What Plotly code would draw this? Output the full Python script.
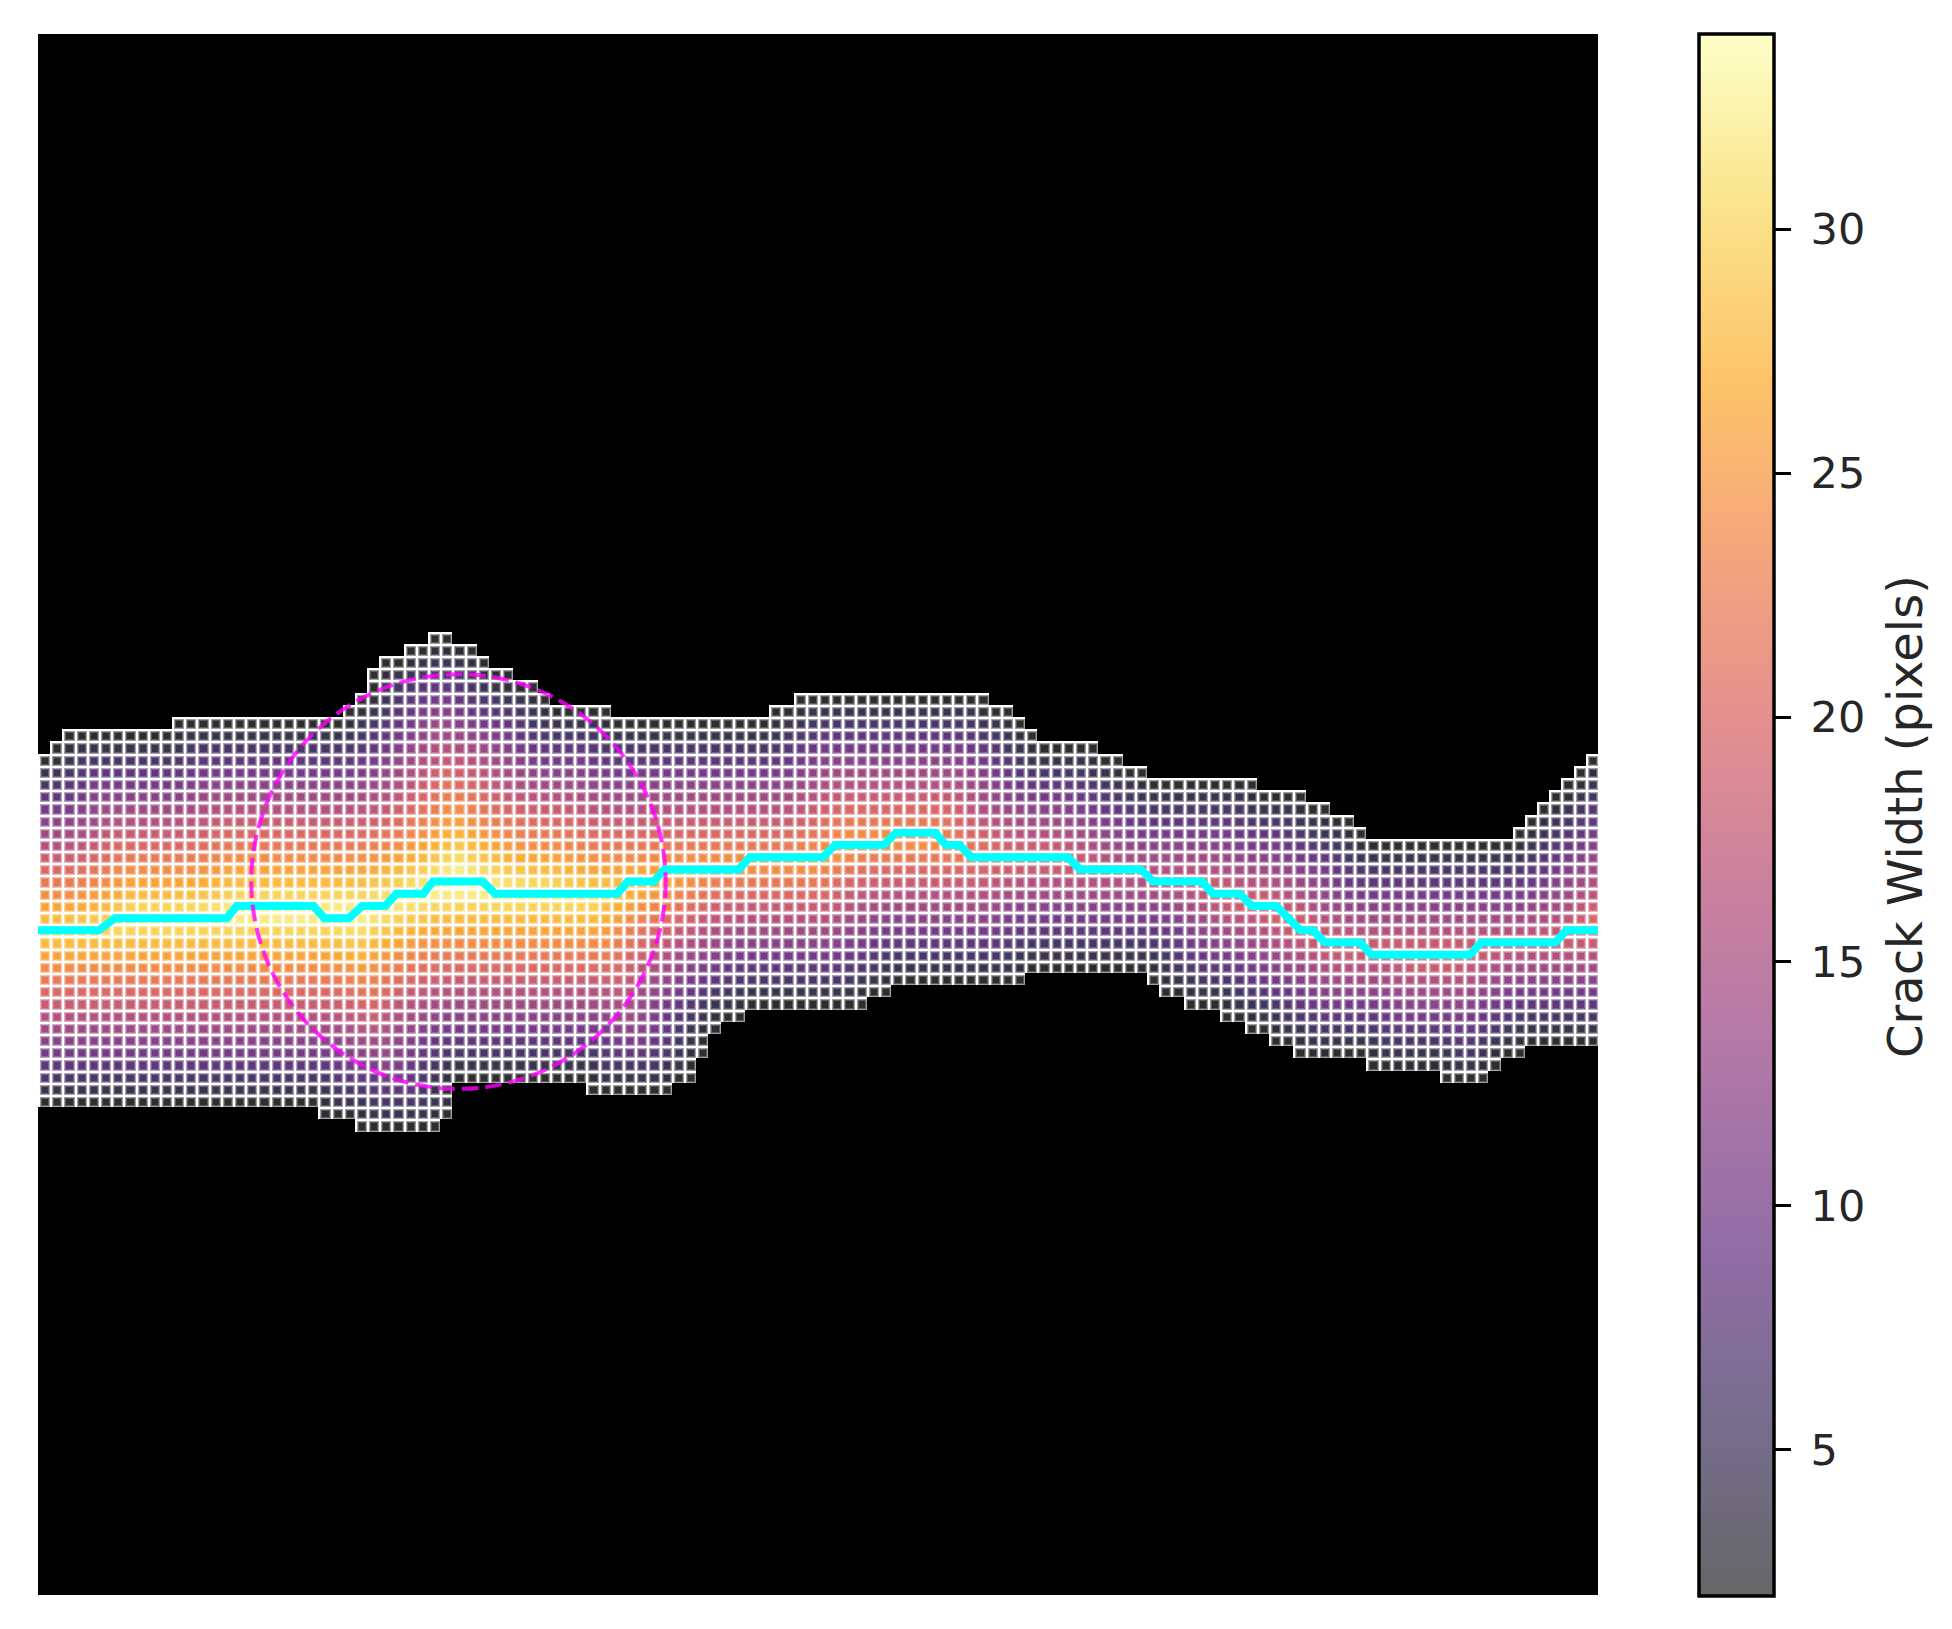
import numpy as np
import plotly.graph_objects as go

# Crack outline per column of the 128x128 grid (first row inside / first row below)
top_rows = [59,58,57,57,57,57,57,57,57,57,57,56,56,56,56,56,56,56,56,56,56,56,56,56,56,55,54,52,51,51,
            50,50,49,49,50,50,51,52,52,53,53,54,55,55,55,55,55,56,56,56,56,56,56,56,56,56,56,56,56,56,
            55,55,54,54,54,54,54,54,54,54,54,54,54,54,54,54,54,54,55,55,56,57,58,58,58,58,58,59,59,60,
            60,61,61,61,61,61,61,61,61,61,62,62,62,62,63,63,64,64,65,66,66,66,66,66,66,66,66,66,66,66,
            66,65,64,63,62,61,60,59]
bottom_rows = [88,88,88,88,88,88,88,88,88,88,88,88,88,88,88,88,88,88,88,88,88,88,88,89,89,89,90,90,90,90,
               90,90,90,89,86,86,86,86,86,86,86,86,86,86,86,87,87,87,87,87,87,87,86,86,84,82,81,81,80,80,
               80,80,80,80,80,80,80,80,79,79,78,78,78,78,78,78,78,78,78,78,78,77,77,77,77,77,77,77,77,77,
               77,78,79,79,80,80,80,81,81,82,82,83,83,84,84,84,84,84,84,85,85,85,85,85,85,86,86,86,86,85,
               84,84,83,83,83,83,83,83]

# Centreline, in the 256-unit image coordinates
line_x = [0,10,12.6,31,32.6,45.2,47,51,53.2,57,58.8,63.2,64.8,73,75,95,96.8,101,102.8,115,116.8,128.8,
          130.8,138.8,140.8,147.2,149,151.2,153.2,169,171,181,183,191,192.8,197.2,199.2,203.2,207.2,
          209.2,211.2,217,218.8,235,236.8,249,250.8,256]
line_y = [147,147,145,145,143,143,145,145,143,143,141,141,139,139,141,141,139,139,137,137,135,135,
          133,133,131,131,133,133,135,135,137,137,139,139,141,141,143,143,147,
          147,149,149,151,151,149,149,147,147]

# Maximum inscribed circle
circle_x, circle_y, circle_r = 69, 139, 34

# Colour scale range and ticks
width_min, width_max = 2, 34
tick_values = [5, 10, 15, 20, 25, 30]
tick_labels = ["\u20055", "\u200510", "\u200515", "\u200520", "\u200525", "\u200530"]
bar_title = "Crack Width (pixels)"
inferno = ["#000004","#1b0c41","#4a0c6b","#781c6d","#a52c60","#cf4446","#ed6925","#fb9b06","#f7d13d","#fcffa4"]


def over_white(alpha):
    out = []
    for i, h in enumerate(inferno):
        r, g, b = (int(h[k:k+2], 16) for k in (1, 3, 5))
        mix = [round(alpha*v + (1-alpha)*255) for v in (r, g, b)]
        out.append([i/(len(inferno)-1), f"rgb({mix[0]},{mix[1]},{mix[2]})"])
    return out


N = 128
top = np.array(top_rows)
bottom = np.array(bottom_rows)
cols = np.arange(N)
px = np.concatenate([cols, cols])
py = np.concatenate([top-1, bottom])
rr, cc = np.mgrid[0:N, 0:N]
inside = (rr >= top[cc]) & (rr < bottom[cc])
dist = np.sqrt((cc[..., None]-px)**2 + (rr[..., None]-py)**2).min(axis=2)
width = np.where(inside, 2*dist, np.nan)
mask = np.where(inside, 1.0, np.nan)

L, R, T, B = 38, 1598, 34, 1595
W, H = 1952, 1629
shift = 1.0*256/(R-L)  # white line sits on the top/left of each cell
cell = dict(z=width, x0=1+shift, dx=2, y0=1+shift, dy=2, zmin=width_min, zmax=width_max,
            colorscale=over_white(0.82), showscale=False)

fig = go.Figure()
fig.add_trace(go.Heatmap(z=mask, x0=1, dx=2, y0=1, dy=2, zmin=0, zmax=1,
                         colorscale=[[0, "white"], [1, "white"]], showscale=False, hoverinfo="skip"))
fig.add_trace(go.Heatmap(xgap=2, ygap=2, opacity=0.45, hoverinfo="skip", **cell))
fig.add_trace(go.Heatmap(xgap=4, ygap=4, opacity=0.6, hoverinfo="skip", **cell))
fig.add_trace(go.Heatmap(xgap=6, ygap=6, **cell))
fig.add_trace(go.Scatter(x=line_x, y=line_y, mode="lines", line=dict(color="#00ffff", width=8),
                         showlegend=False, hoverinfo="skip"))
fig.add_trace(go.Scatter(x=[None], y=[None], mode="markers", showlegend=False,
                         marker=dict(color=[width_min, width_max], cmin=width_min, cmax=width_max,
                                     colorscale=over_white(0.6), showscale=True,
                                     colorbar=dict(xref="container", yref="container",
                                                   x=1699/W, xanchor="left", xpad=0, ypad=0,
                                                   y=1-34/H, yanchor="top",
                                                   lenmode="pixels", len=1562,
                                                   thicknessmode="pixels", thickness=75,
                                                   outlinecolor="black", outlinewidth=3.5, borderwidth=0,
                                                   tickmode="array", tickvals=tick_values, ticktext=tick_labels,
                                                   ticks="outside", ticklen=16, tickwidth=3, tickcolor="black",
                                                   tickfont=dict(family="DejaVu Sans", size=43, color="#262626")))))
fig.add_shape(type="circle", xref="x", yref="y",
              x0=circle_x-circle_r, x1=circle_x+circle_r, y0=circle_y-circle_r, y1=circle_y+circle_r,
              line=dict(color="rgba(255,0,255,0.8)", width=4, dash="16.5px,7px"))
fig.add_annotation(xref="paper", yref="paper", x=1905/W, y=1-817/H, xanchor="center", yanchor="middle",
                   text=bar_title, textangle=-90,
                   showarrow=False, font=dict(family="DejaVu Sans", size=48, color="#262626"))
fig.update_layout(width=W, height=H, autosize=False,
                  margin=dict(l=0, r=0, t=0, b=0, pad=0, autoexpand=False),
                  paper_bgcolor="white", plot_bgcolor="black", showlegend=False,
                  xaxis=dict(domain=[L/W, R/W], range=[0, 256], visible=False),
                  yaxis=dict(domain=[1-B/H, 1-T/H], range=[256, 0], visible=False))
fig.write_html("out.html", config=dict(displayModeBar=False),
               post_script="document.body.style.margin='0';document.body.style.overflow='hidden';")
